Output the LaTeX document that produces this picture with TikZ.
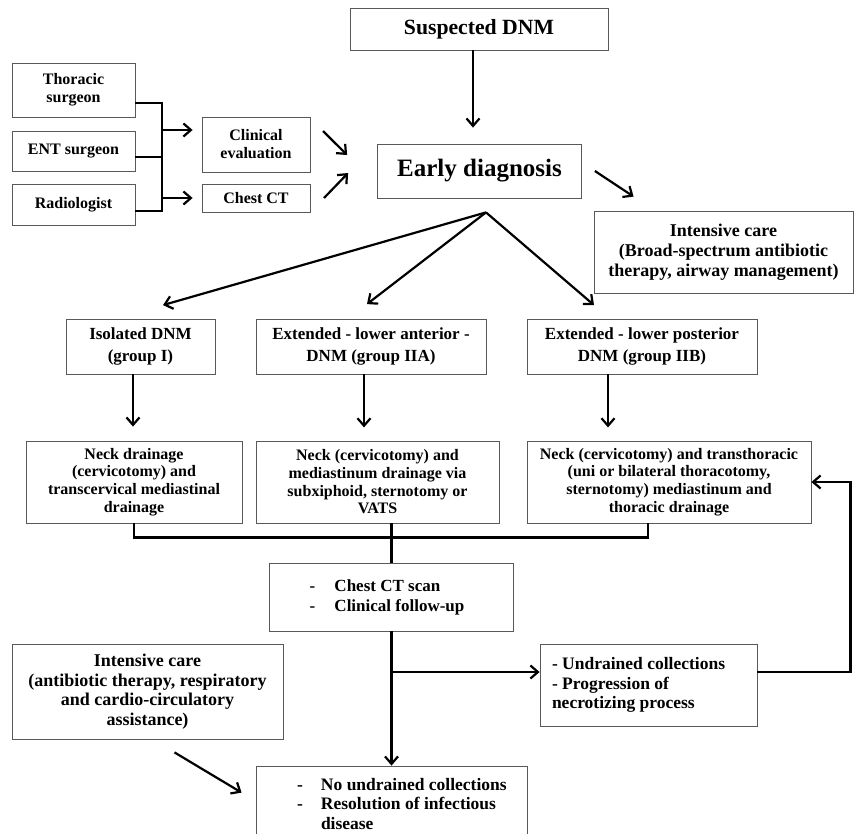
\documentclass[tikz,border=0pt]{standalone}
\usepackage{fontspec}
\setmainfont{Liberation Serif}
\usetikzlibrary{arrows.meta, positioning}

\newcommand{\fsz}[2]{\fontsize{#1}{#2}\selectfont\bfseries}

\tikzset{
  box/.style={draw=black!65, line width=0.8pt, inner sep=0pt, align=center},
  link/.style={line width=2.2pt},
  arr/.style={link, -{Straight Barb[length=7.5pt,width=13pt]}}
}

\begin{document}
\begin{tikzpicture}[x=1pt,y=-1pt]
        \useasboundingbox (0,0) rectangle (854,833);

        \node[box, minimum width=258pt, minimum height=42pt, font=\fsz{21.7}{25}] (susp) at (479,29) {Suspected DNM};
        \node[box, minimum width=204pt, minimum height=54pt, font=\fsz{25}{28}] (early) at (479.5,171) {Early diagnosis};
        \node[box, minimum width=259pt, minimum height=82pt, font=\fsz{18}{20}] (icare) at (723.5,252) {Intensive care\\(Broad-spectrum antibiotic\\therapy, airway management)};

        \node[box, minimum width=123pt, minimum height=54pt, font=\fsz{16}{18}] (thor) at (73.5,90) {Thoracic\\surgeon};
        \node[box, minimum width=123pt, minimum height=40pt, font=\fsz{16}{18}] (ent) at (73.5,151) {ENT surgeon};
        \node[box, minimum width=123pt, minimum height=41pt, font=\fsz{16}{18}] (radio) at (73.5,204.5) {Radiologist};
        \node[box, minimum width=108pt, minimum height=55pt, font=\fsz{16}{18}] (clin) at (256,144.5) {Clinical\\evaluation};
        \node[box, minimum width=108pt, minimum height=28pt, font=\fsz{16}{18}] (chct) at (256,198) {Chest CT};

        \node[box, minimum width=149pt, minimum height=55pt, font=\fsz{17}{21.7}] (iso) at (140.5,346.5) {Isolated DNM\\(group I)};
        \node[box, minimum width=230pt, minimum height=55pt, font=\fsz{17}{21.7}] (ant) at (371,346.5) {Extended - lower anterior -\\DNM (group IIA)};
        \node[box, minimum width=230pt, minimum height=55pt, font=\fsz{17}{21.7}] (post) at (642,346.5) {Extended - lower posterior\\DNM (group IIB)};

        \node[box, minimum width=216pt, minimum height=82pt, font=\fsz{16}{17.7}] (dr1) at (134,482) {Neck drainage\\(cervicotomy) and\\transcervical mediastinal\\drainage};
        \node[box, minimum width=243pt, minimum height=82pt, font=\fsz{16}{17.7}] (dr2) at (377.5,482) {Neck (cervicotomy) and\\mediastinum drainage via\\subxiphoid, sternotomy or\\VATS};
        \node[box, minimum width=284pt, minimum height=82pt, font=\fsz{16}{17.7}] (dr3) at (669,482) {Neck (cervicotomy) and transthoracic\\(uni or bilateral thoracotomy,\\sternotomy) mediastinum and\\thoracic drainage};

        \node[box, align=flush left, inner xsep=6pt, text width=232pt, minimum height=68pt, font=\fsz{17}{20}] (cts) at (391.5,597)
          {\hspace*{34pt}\makebox[25pt][l]{-}Chest CT scan\\\hspace*{34pt}\makebox[25pt][l]{-}Clinical follow-up};
        \node[box, align=flush left, inner xsep=12pt, text width=193pt, minimum height=82pt, font=\fsz{17.5}{19.5}] (undr) at (648.5,685)
          {- Undrained collections\\- Progression of\\necrotizing process};
        \node[box, minimum width=271pt, minimum height=95pt, font=\fsz{18}{19.5}] (icare2) at (147.5,691.5) {Intensive care\\(antibiotic therapy, respiratory\\and cardio-circulatory\\assistance)};
        \node[box, align=flush left, inner xsep=6pt, text width=259pt, minimum height=76pt, font=\fsz{17.5}{19.5}] (res) at (391.5,804)
          {\hspace*{35pt}\makebox[24pt][l]{-}No undrained collections\\\hspace*{35pt}\makebox[24pt][l]{-}Resolution of infectious\\\hspace*{59pt}disease};

        % specialists to the first work-up
        \coordinate (jtop) at (162,103);
        \coordinate (jbot) at (162,211);
        \draw[link] ([yshift=-13pt]thor.east) -- (jtop) -- (jbot) -- ([yshift=-6.5pt]radio.east);
        \draw[link] ([yshift=-6pt]ent.east) -- ([yshift=-6pt]ent.east -| jtop);
        \draw[arr] (jtop |- 0,130) -- ([xshift=-9pt,yshift=14.5pt]clin.west);
        \draw[arr] (jtop |- chct.west) -- ([xshift=-9pt]chct.west);

        \coordinate (c1) at (323,131);
        \coordinate (c2) at (324,198);
        \draw[arr] (c1) -- ([xshift=-30pt,yshift=16pt]early.west);
        \draw[arr] (c2) -- ([xshift=-29pt,yshift=-2pt]early.west);

        \draw[arr] ([xshift=-6pt]susp.south) -- ([xshift=-6.5pt,yshift=16pt]early.north);
        \draw[arr] ([xshift=13pt]early.east) -- ([xshift=40pt,yshift=14pt]icare.north west);

        % branches of the diagnosis
        \coordinate (br) at ([xshift=6.5pt,yshift=-14pt]early.south);
        \draw[arr] (br) -- ([xshift=22.5pt,yshift=13.5pt]iso.north);
        \draw[arr] (br) -- ([xshift=-4pt,yshift=14.5pt]ant.north);
        \draw[arr] (br) -- ([xshift=-48pt,yshift=13.5pt]post.north);

        \draw[arr] ([xshift=-7.5pt]iso.south) -- ([xshift=-1pt,yshift=14pt]dr1.north);
        \draw[arr] ([xshift=-7pt]ant.south) -- ++(0,53);
        \draw[arr] ([xshift=-34pt]post.south) -- ++(0,53);

        % follow-up
        \draw[link] (dr1.south) -- ++(0,14) -| ([xshift=-21pt]dr3.south);
        \draw[link] (cts.north |- dr2.south) -- (cts.north);
        \draw[arr] (cts.south) -- (res.north);
        \draw[arr] (cts.south |- undr.west) ++(0,-13) -- ([yshift=13pt]undr.west);
        \draw[arr] ([yshift=13pt]undr.east) -| ([xshift=39pt]dr3.east) -- (dr3.east);
        \draw[arr] ([xshift=27pt,yshift=-13pt]icare2.south) -- ([xshift=-14pt,yshift=-27pt]res.north west);
\end{tikzpicture}
\end{document}
